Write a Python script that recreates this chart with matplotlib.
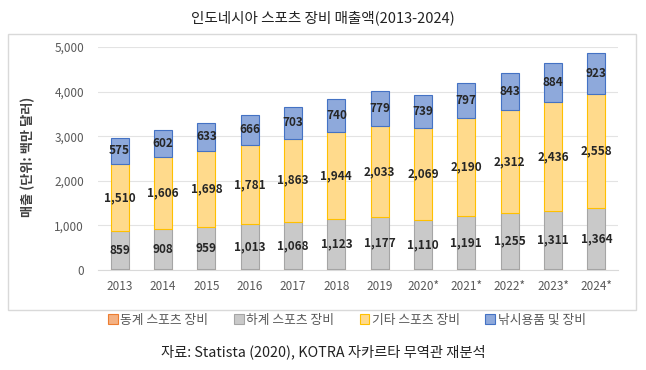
import matplotlib
matplotlib.use('Agg')
import matplotlib.pyplot as plt
from matplotlib.patches import Rectangle
import numpy as np

plt.rcParams['font.family'] = ['Noto Sans CJK KR', 'DejaVu Sans']

years = ['2013', '2014', '2015', '2016', '2017', '2018', '2019',
         '2020*', '2021*', '2022*', '2023*', '2024*']
# 동계 스포츠 장비 - barely visible in the picture, estimated
winter = [12, 13, 13, 14, 15, 16, 17, 16, 17, 18, 19, 20]
summer = [859, 908, 959, 1013, 1068, 1123, 1177, 1110, 1191, 1255, 1311, 1364]
other = [1510, 1606, 1698, 1781, 1863, 1944, 2033, 2069, 2190, 2312, 2436, 2558]
fishing = [575, 602, 633, 666, 703, 740, 779, 739, 797, 843, 884, 923]

series = [
    ('동계 스포츠 장비', winter, '#F4B183', '#ED7D31', False),
    ('하계 스포츠 장비', summer, '#C9C9C9', '#A5A5A5', True),
    ('기타 스포츠 장비', other, '#FFDA8C', '#FFC000', True),
    ('낚시용품 및 장비', fishing, '#8EA9DB', '#4472C4', True),
]

fig = plt.figure(figsize=(6.46, 3.70), dpi=100)
ax = fig.add_axes([98 / 646, 100 / 370, 520 / 646, 223 / 370])

# chart area frame
fig.patches.append(Rectangle((8 / 646, 60 / 370), 628 / 646, 276 / 370,
                             transform=fig.transFigure, fill=False,
                             edgecolor='#D9D9D9', linewidth=1.0))

x = np.arange(len(years))
bottom = np.zeros(len(years))
for name, vals, face, edge, show in series:
    vals = np.array(vals, dtype=float)
    ax.bar(x, vals, 0.42, bottom=bottom, color=face, edgecolor=edge,
           linewidth=0.8, label=name, zorder=3)
    if show:
        for xi, b, v in zip(x, bottom, vals):
            ax.text(xi, b + v / 2, f'{int(v):,}', ha='center', va='center',
                    fontsize=8.5, fontweight='bold', color='#262626', zorder=4)
    bottom += vals

ax.set_xlim(-0.5, len(years) - 0.5)
ax.set_ylim(0, 5000)
ax.set_yticks(np.arange(0, 5001, 1000))
ax.set_yticklabels([f'{v:,}' for v in range(0, 5001, 1000)])
ax.set_xticks(x)
ax.set_xticklabels(years)
ax.tick_params(axis='both', length=0, labelsize=8.5, labelcolor='#595959')
ax.tick_params(axis='x', pad=7)
ax.tick_params(axis='y', pad=10)
ax.grid(axis='y', color='#E3E3E3', linewidth=0.8, zorder=0)
for s in ['top', 'right', 'left']:
    ax.spines[s].set_visible(False)
ax.spines['bottom'].set_color('#D9D9D9')

fig.text(28 / 646, 0.575, '매출 (단위: 백만 달러)', rotation=90, ha='center',
         va='center', fontsize=9.5, fontweight='bold', color='#404040')

handles, labels = ax.get_legend_handles_labels()
fig.legend(handles, labels, loc='center', bbox_to_anchor=(0.537, 0.135),
           ncol=4, frameon=False, fontsize=9.2, labelcolor='#595959',
           handlelength=0.75, handleheight=0.75, handletextpad=0.2,
           columnspacing=2.0)

fig.text(0.5, 0.952, '인도네시아 스포츠 장비 매출액(2013-2024)', ha='center',
         va='center', fontsize=10.5, color='#222222')
fig.text(0.5, 0.048, '자료: Statista (2020), KOTRA 자카르타 무역관 재분석',
         ha='center', va='center', fontsize=10.3, color='#222222')

fig.savefig('out.png', dpi=100)
